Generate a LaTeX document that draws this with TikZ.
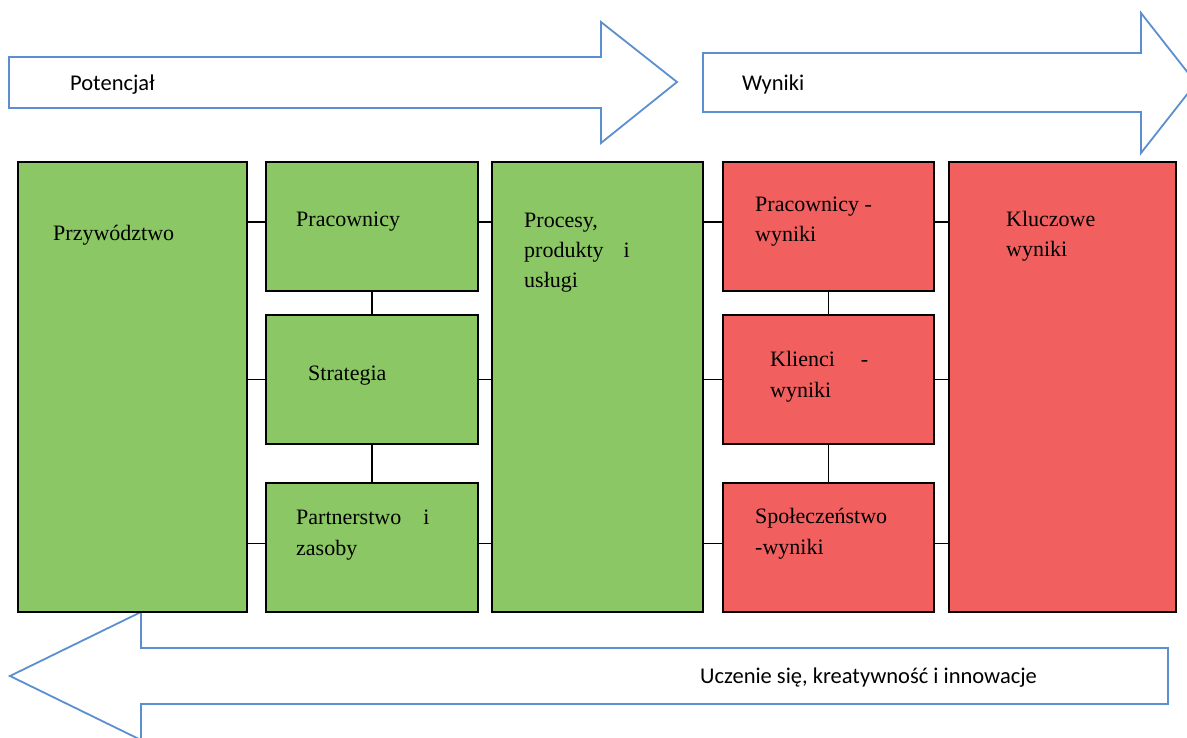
\documentclass[tikz,border=0pt]{standalone}
\usepackage{fontspec}
\setmainfont{Liberation Serif}
\newfontfamily\calfont{Carlito}
\definecolor{boxgreen}{HTML}{8BC764}
\definecolor{boxred}{HTML}{F15F5F}
\definecolor{arrowblue}{HTML}{5B8FD0}
\begin{document}
\begin{tikzpicture}[x=1pt,y=-1pt,
  gbox/.style={draw=black,line width=1.8pt,fill=boxgreen,anchor=north west,inner sep=0pt},
  rbox/.style={draw=black,line width=1.8pt,fill=boxred,anchor=north west,inner sep=0pt},
  conn/.style={draw=black,line width=1.8pt},
  bigarrow/.style={draw=arrowblue,line width=1.8pt,fill=white,line join=miter},
  boxtxt/.style={anchor=base west,inner sep=0pt,font=\fontsize{22}{30.5}\selectfont,align=left},
  arrtxt/.style={anchor=base west,inner sep=0pt,font=\calfont\fontsize{22.5}{26}\selectfont}]
\useasboundingbox (0,0) rectangle (1187,738);
% top arrows
\draw[bigarrow] (9,57) -- (601,57) -- (601,22) -- (677,82) -- (601,143) -- (601,108) -- (9,108) -- cycle;
\draw[bigarrow] (703,53) -- (1141,53) -- (1141,13) -- (1196,83) -- (1141,153) -- (1141,112) -- (703,112) -- cycle;
% bottom arrow
\draw[bigarrow] (1168,648) -- (141,648) -- (141,612) -- (10,676) -- (141,740) -- (141,704) -- (1168,704) -- cycle;
\node[arrtxt] (tpot) at (70,91) {Potencjał};
\node[arrtxt] (twyn) at (742,91) {Wyniki};
\node[arrtxt] (tucz) at (700,683) {Uczenie się, kreatywność i innowacje};
% boxes
\node[gbox,minimum width=229pt,minimum height=450pt] (przy) at (17,161) {};
\node[gbox,minimum width=212pt,minimum height=129pt] (prac) at (265,161) {};
\node[gbox,minimum width=212pt,minimum height=129pt] (strat) at (265,314) {};
\node[gbox,minimum width=212pt,minimum height=129pt] (part) at (265,482) {};
\node[gbox,minimum width=211pt,minimum height=450pt] (proc) at (491,161) {};
\node[rbox,minimum width=211pt,minimum height=129pt] (pwyn) at (722,161) {};
\node[rbox,minimum width=211pt,minimum height=129pt] (kwyn) at (722,314) {};
\node[rbox,minimum width=211pt,minimum height=129pt] (swyn) at (722,482) {};
\node[rbox,minimum width=227pt,minimum height=450pt] (klu) at (948,161) {};
% connectors
\foreach \b/\s in {prac/4pt,strat/0pt,part/4pt}{
  \draw[conn] ([yshift=\s]\b.west) -- ([yshift=\s]\b.west -| przy.east);
  \draw[conn] ([yshift=\s]\b.east) -- ([yshift=\s]\b.east -| proc.west);
}
\foreach \b/\s in {pwyn/4pt,kwyn/0pt,swyn/4pt}{
  \draw[conn] ([yshift=\s]\b.west) -- ([yshift=\s]\b.west -| proc.east);
  \draw[conn] ([yshift=\s]\b.east) -- ([yshift=\s]\b.east -| klu.west);
}
\draw[conn] (prac.south) -- (strat.north);
\draw[conn] (strat.south) -- (part.north);
\draw[conn] (pwyn.south) -- (kwyn.north);
\draw[conn] (kwyn.south) -- (swyn.north);
% texts (multi-line nodes: base anchor is the last line)
\node[boxtxt] (tprzy) at (53,241) {Przywództwo};
\node[boxtxt] (tprac) at (296,227) {Pracownicy};
\node[boxtxt] (tproc) at (524,288) {Procesy,\\produkty\hspace{20pt}i\\usługi};
\node[boxtxt] (tstrat) at (308,381) {Strategia};
\node[boxtxt] (tpart) at (296,555) {Partnerstwo\hspace{22pt}i\\zasoby};
\node[boxtxt] (tpwyn) at (755,242) {Pracownicy -\\wyniki};
\node[boxtxt] (tkwyn) at (770,397) {Klienci\hspace{26pt}-\\wyniki};
\node[boxtxt] (tswyn) at (755,554) {Społeczeństwo\\-wyniki};
\node[boxtxt] (tklu) at (1006,257) {Kluczowe\\wyniki};
\end{tikzpicture}
\end{document}
